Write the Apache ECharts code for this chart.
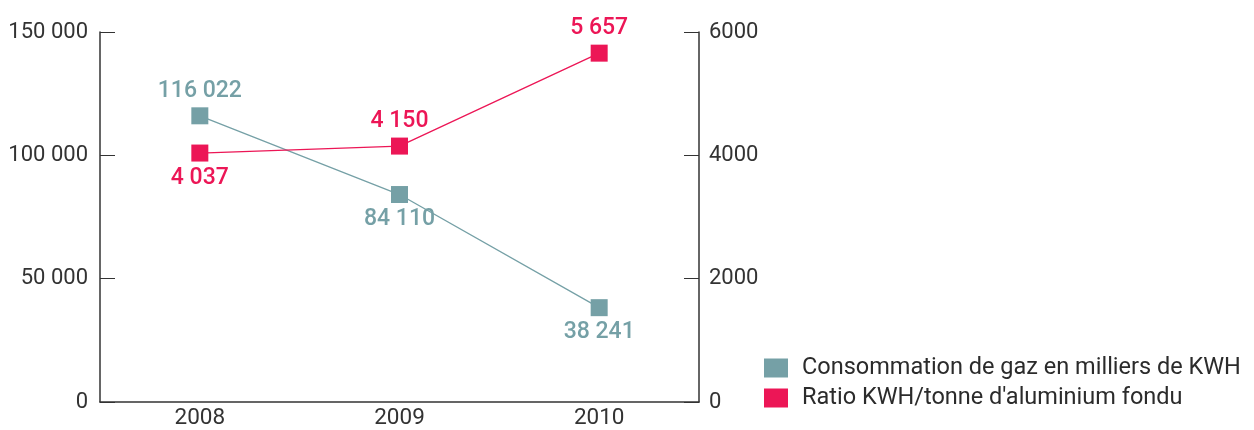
<!DOCTYPE html>
<html><head><meta charset="utf-8">
<script src="https://cdn.jsdelivr.net/npm/echarts@6/dist/echarts.min.js"></script>
<style>html,body{margin:0;padding:0;background:#fff}#c{width:1254px;height:430px}</style>
</head><body><div id="c"></div>
<script>
const categories = ['2008', '2009', '2010'];
const gazValues = [116022, 84110, 38241];
const ratioValues = [4037, 4150, 5657];
const gazLabelPos = ['top', 'bottom', 'bottom'];
const ratioLabelPos = ['bottom', 'top', 'top'];
const seriesNames = ['Consommation de gaz en milliers de KWH', "Ratio KWH/tonne d'aluminium fondu"];
const leftTicks = [0, 50000, 100000, 150000];
const rightTicks = [0, 2000, 4000, 6000];

const FONT = 'Roboto';
const TEAL = '#75a0a6';
const PINK = '#ec1656';
const fmt = v => String(v).replace(/\B(?=(\d{3})+(?!\d))/g, ' ');

const chart = echarts.init(document.getElementById('c'));
chart.setOption({
  animation: false,
  textStyle: { fontFamily: FONT },
  grid: { left: 100, right: 555, top: 32, bottom: 26, containLabel: false },
  legend: {
    orient: 'vertical', left: 764, top: 356, padding: 0, itemWidth: 24, itemHeight: 19, itemGap: 6,
    icon: 'rect',
    textStyle: { fontFamily: FONT, fontSize: 23.5, color: '#2b2b2b', padding: [0, 0, 0, 9] },
    data: seriesNames
  },
  xAxis: {
    type: 'category', data: categories, boundaryGap: true,
    axisLine: { lineStyle: { color: '#333', width: 1.5 } },
    axisTick: { inside: true, length: 8, lineStyle: { color: '#333' } },
    axisLabel: { color: '#333', fontSize: 22.5, margin: 5, fontFamily: FONT }
  },
  yAxis: [{
    type: 'value', min: 0, max: 150000, interval: 50000, position: 'left',
    axisLine: { show: true, lineStyle: { color: '#333', width: 1.5 } },
    axisTick: { show: true, inside: true, length: 15, lineStyle: { color: '#333' } },
    splitLine: { show: false },
    axisLabel: { color: '#333', fontSize: 22, margin: 12, fontFamily: FONT, formatter: v => fmt(v) }
  }, {
    type: 'value', min: 0, max: 6000, interval: 2000, position: 'right',
    axisLine: { show: true, lineStyle: { color: '#333', width: 1.5 } },
    axisTick: { show: true, inside: true, length: 15, lineStyle: { color: '#333' } },
    splitLine: { show: false },
    axisLabel: { color: '#333', fontSize: 22, margin: 10, fontFamily: FONT, formatter: v => String(v) }
  }],
  series: [{
    name: seriesNames[0], type: 'line', yAxisIndex: 0,
    symbol: 'rect', symbolSize: 17,
    itemStyle: { color: TEAL }, lineStyle: { color: TEAL, width: 1.3 },
    data: gazValues.map((v, i) => ({ value: v, label: { position: gazLabelPos[i] } })),
    label: { show: true, color: TEAL, fontSize: 23, fontWeight: 500, distance: 5, formatter: p => fmt(p.value), fontFamily: FONT }
  }, {
    name: seriesNames[1], type: 'line', yAxisIndex: 1,
    symbol: 'rect', symbolSize: 17,
    itemStyle: { color: PINK }, lineStyle: { color: PINK, width: 1.3 },
    data: ratioValues.map((v, i) => ({ value: v, label: { position: ratioLabelPos[i] } })),
    label: { show: true, color: PINK, fontSize: 23, fontWeight: 500, distance: 5, formatter: p => fmt(p.value), fontFamily: FONT }
  }]
});
</script></body></html>
